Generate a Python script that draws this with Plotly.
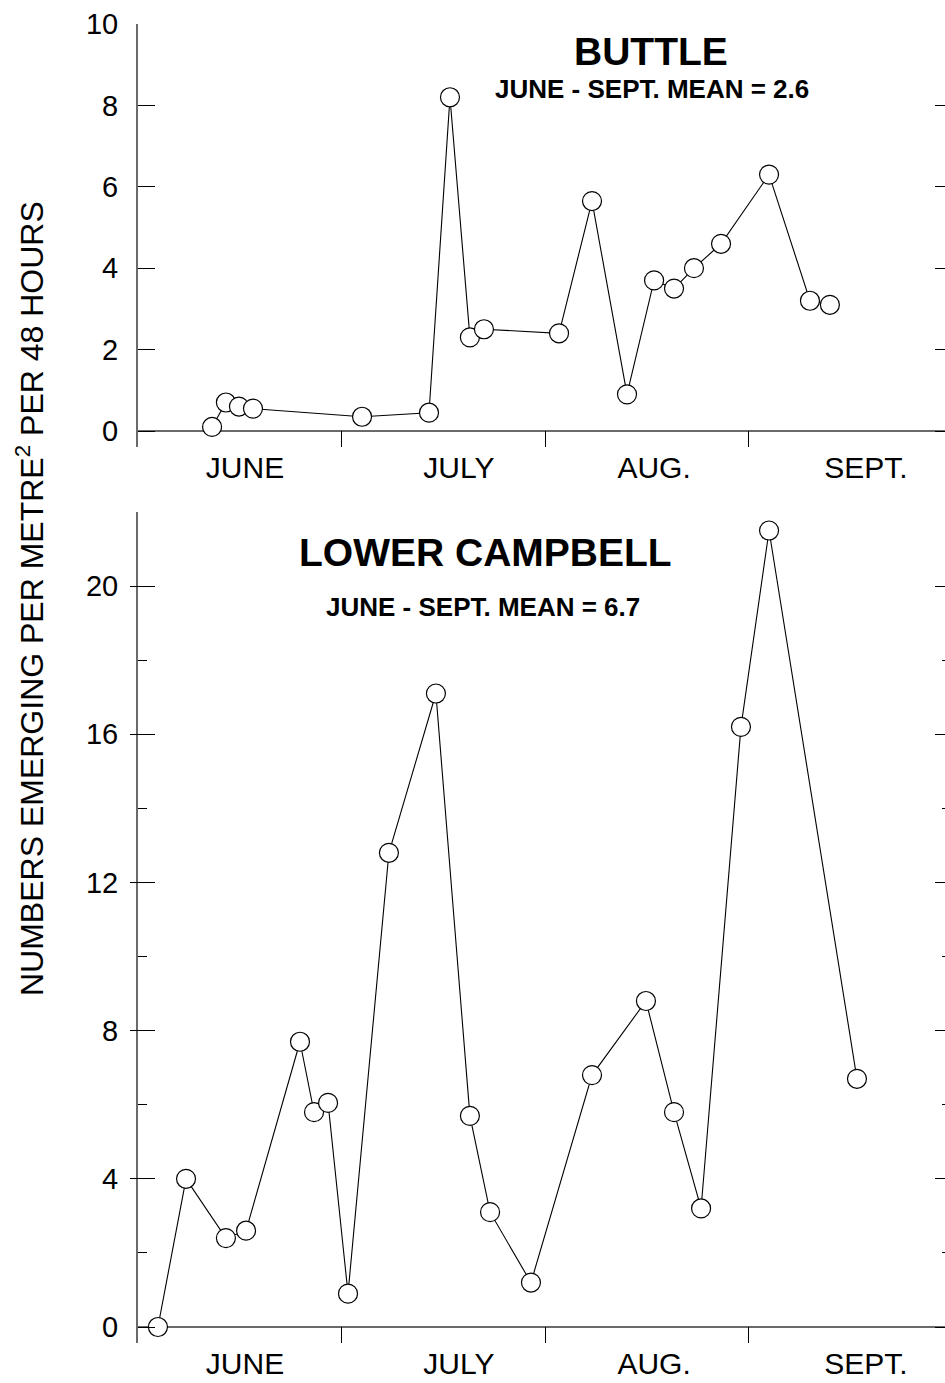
import plotly.graph_objects as go

# ---------------- data ----------------
# x in months after 1 June (0 = 1 June, 1 = 1 July, ...)
buttle_x = [0.364, 0.432, 0.496, 0.565, 1.101, 1.430, 1.533, 1.631, 1.700, 2.069,
            2.231, 2.403, 2.536, 2.634, 2.732, 2.865, 3.101, 3.302, 3.400]
buttle_y = [0.1, 0.7, 0.6, 0.55, 0.35, 0.45, 8.2, 2.3, 2.5, 2.4,
            5.65, 0.9, 3.7, 3.5, 4.0, 4.6, 6.3, 3.2, 3.1]

campbell_x = [0.098, 0.236, 0.432, 0.531, 0.796, 0.865, 0.934, 1.032, 1.233, 1.464,
              1.631, 1.730, 1.931, 2.231, 2.496, 2.634, 2.767, 2.963, 3.101, 3.533]
campbell_y = [0.0, 4.0, 2.4, 2.6, 7.7, 5.8, 6.05, 0.9, 12.8, 17.1,
              5.7, 3.1, 1.2, 6.8, 8.8, 5.8, 3.2, 16.2, 21.5, 6.7]

month_labels = ["JUNE", "JULY", "AUG.", "SEPT."]
month_label_pos = [0.526, 1.577, 2.536, 3.577]
month_bounds = [1, 2, 3]

top_title = "BUTTLE"
top_sub = "JUNE - SEPT. MEAN = 2.6"
bot_title = "LOWER CAMPBELL"
bot_sub = "JUNE - SEPT. MEAN = 6.7"
y_title = "NUMBERS EMERGING PER METRE<sup>2</sup> PER 48 HOURS"

top_ticks = [0, 2, 4, 6, 8, 10]
bot_major = [0, 4, 8, 12, 16, 20]
bot_minor = [2, 6, 10, 14, 18, 22]

# ---------------- layout constants ----------------
W, H = 945, 1383
FONT = "Liberation Sans, Arial, Helvetica, sans-serif"
AXIS_GREY = "#6a6a6a"
x_left = 138 / W
x_range = [0, (945 - 138) / 203.5]
top_dom = [(H - 447) / H, (H - 24) / H]
bot_dom = [(H - 1343) / H, (H - 512) / H]
top_range = [-16 / 40.7, 10]
bot_range = [-16 / 37.05, 22]

marker = dict(symbol="circle", size=19, color="white", line=dict(color="black", width=1.2))
line = dict(color="black", width=1.1)

fig = go.Figure()
fig.add_trace(go.Scatter(x=buttle_x, y=buttle_y, mode="lines+markers", marker=marker,
                         line=line, xaxis="x", yaxis="y", showlegend=False, cliponaxis=False))
fig.add_trace(go.Scatter(x=campbell_x, y=campbell_y, mode="lines+markers", marker=marker,
                         line=line, xaxis="x2", yaxis="y2", showlegend=False, cliponaxis=False))
# empty traces to make the overlay tick axes exist
for ya, xa in (("y3", "x"), ("y4", "x2"), ("y5", "x2")):
    fig.add_trace(go.Scatter(x=[None], y=[None], xaxis=xa, yaxis=ya, showlegend=False,
                             hoverinfo="skip"))

xaxis_common = dict(
    range=x_range, showgrid=False, zeroline=False, showline=False, automargin=False,
    tickmode="array", tickvals=month_label_pos, ticktext=month_labels,
    ticks="inside", ticklen=0, tickfont=dict(family=FONT, size=30, color="black"),
    ticklabelstandoff=0,
    minor=dict(tickmode="array", tickvals=month_bounds, ticks="inside", ticklen=16,
               tickcolor="black", tickwidth=1),
)
yfont = dict(family=FONT, size=29, color="black")

fig.update_layout(
    template="none",
    width=W, height=H, margin=dict(l=0, r=0, t=0, b=0, pad=0), autosize=False,
    paper_bgcolor="white", plot_bgcolor="white", showlegend=False,
    xaxis=dict(domain=[x_left, 1], anchor="y", **xaxis_common),
    xaxis2=dict(domain=[x_left, 1], anchor="y2", **xaxis_common),
    yaxis=dict(domain=top_dom, anchor="x", range=top_range, showgrid=False, automargin=False,
               zeroline=True, zerolinecolor=AXIS_GREY, zerolinewidth=2,
               showline=True, linecolor=AXIS_GREY, linewidth=2,
               tickmode="array", tickvals=top_ticks, ticks="inside", ticklen=17,
               tickcolor="black", tickwidth=1, tickfont=yfont, ticklabelstandoff=12),
    yaxis2=dict(domain=bot_dom, anchor="x2", range=bot_range, showgrid=False, automargin=False,
                zeroline=True, zerolinecolor=AXIS_GREY, zerolinewidth=2,
                showline=True, linecolor=AXIS_GREY, linewidth=2,
                tickmode="array", tickvals=bot_major, ticks="inside", ticklen=17,
                tickcolor="black", tickwidth=1, tickfont=yfont, ticklabelstandoff=12,
                minor=dict(tickmode="array", tickvals=bot_minor, ticks="inside", ticklen=9,
                           tickcolor="black", tickwidth=1)),
    # right-hand tick marks (no axis line)
    yaxis3=dict(overlaying="y", side="right", anchor="free", position=1, range=top_range,
                showgrid=False, zeroline=False, showline=False, showticklabels=False,
                automargin=False,
                tickmode="array", tickvals=top_ticks, ticks="inside", ticklen=10,
                tickcolor="black", tickwidth=1),
    yaxis4=dict(overlaying="y2", side="right", anchor="free", position=1, range=bot_range,
                showgrid=False, zeroline=False, showline=False, showticklabels=False,
                automargin=False,
                tickmode="array", tickvals=bot_major, ticks="inside", ticklen=10,
                tickcolor="black", tickwidth=1,
                minor=dict(tickmode="array", tickvals=bot_minor, ticks="inside", ticklen=3,
                           tickcolor="black", tickwidth=1)),
    # outward part of crossing major ticks on lower panel
    yaxis5=dict(overlaying="y2", side="left", anchor="free", position=x_left, range=bot_range,
                showgrid=False, zeroline=False, showline=False, showticklabels=False,
                automargin=False,
                tickmode="array", tickvals=bot_major[1:], ticks="outside", ticklen=8,
                tickcolor="black", tickwidth=1),
)

ann = [
    dict(text=top_title, x=651 / W, y=1 - 51 / H, size=39, bold=True),
    dict(text=top_sub, x=652 / W, y=1 - 89 / H, size=26, bold=True),
    dict(text=bot_title, x=485 / W, y=1 - 552 / H, size=39, bold=True),
    dict(text=bot_sub, x=483 / W, y=1 - 607 / H, size=26, bold=True),
]
for a in ann:
    txt = "<b>%s</b>" % a["text"] if a["bold"] else a["text"]
    fig.add_annotation(text=txt, x=a["x"], y=a["y"], xref="paper", yref="paper",
                       xanchor="center", yanchor="middle", showarrow=False,
                       font=dict(family=FONT, size=a["size"], color="black"))
fig.add_annotation(text=y_title, x=30 / W, y=1 - 599 / H, xref="paper", yref="paper",
                   xanchor="center", yanchor="middle", showarrow=False, textangle=-90,
                   font=dict(family=FONT, size=32, color="black"))

fig.write_html("out.html", config={"displayModeBar": False},
               post_script="document.body.style.margin='0';document.body.style.padding='0';")
